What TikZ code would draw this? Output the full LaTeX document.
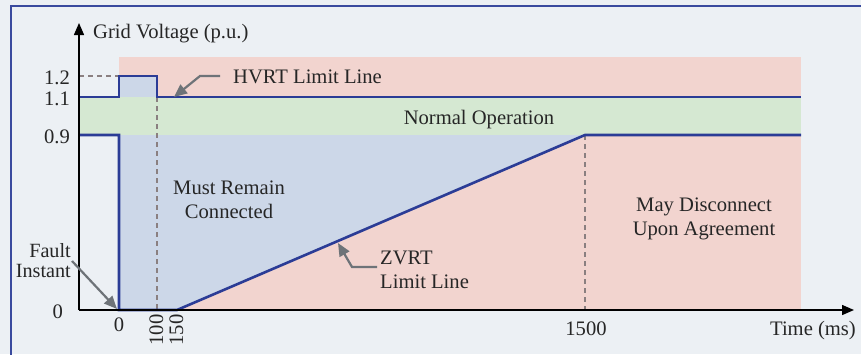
\documentclass[tikz,border=0pt]{standalone}
\usepackage{fontspec}
\setmainfont{Liberation Serif}
\usetikzlibrary{arrows.meta}
\definecolor{bgc}{HTML}{ECF0F4}
\definecolor{pinkc}{HTML}{F2D4CF}
\definecolor{greenc}{HTML}{D5E8D2}
\definecolor{bluef}{HTML}{CCD7E8}
\definecolor{lineblue}{HTML}{2B3C96}
\definecolor{framec}{HTML}{3A4A9E}
\definecolor{arrgray}{HTML}{6E7378}
\definecolor{dashc}{HTML}{8A7F80}
\begin{document}
\begin{tikzpicture}[x=1pt,y=-1pt,
  lbl/.style={font=\fontsize{20.6}{24}\selectfont, inner sep=0pt, text=black!85},
  small/.style={font=\fontsize{20.2}{20}\selectfont, inner sep=0pt, text=black!85},
  limit/.style={lineblue, line width=2.6pt, line join=miter},
  guide/.style={dashc, dashed, line width=1.2pt, dash pattern=on 5pt off 4pt},
  axis/.style={black, line width=1.4pt, -{Triangle[length=12pt,width=10pt]}},
  pointer/.style={arrgray, line width=2.2pt, -{Triangle[length=13pt,width=11pt]}}]
\useasboundingbox (0,0) rectangle (861,354);
\fill[bgc] (0,0) rectangle (861,354);
\draw[framec, line width=2.5pt] (11,400) -- (11,6) -- (900,6);
% regions
\fill[pinkc] (119,57) rectangle (801,310);
\fill[greenc] (79,97) rectangle (801,135);
\fill[bluef] (119,76) rectangle (157,97);
\fill[bluef] (119,135) -- (585,135) -- (177,310) -- (119,310) -- cycle;
% coordinates
\coordinate (o) at (79,310);
\coordinate (ytop) at (79,23);
\coordinate (xend) at (854,310);
\coordinate (a11) at (79,97);
\coordinate (b11) at (119,97);
\coordinate (b12) at (119,76);
\coordinate (c12) at (157,76);
\coordinate (c11) at (157,97);
\coordinate (e11) at (801,97);
\coordinate (a09) at (79,135);
\coordinate (b09) at (119,135);
\coordinate (b00) at (119,310);
\coordinate (d00) at (177,310);
\coordinate (f09) at (585,135);
\coordinate (e09) at (801,135);
\coordinate (c00) at (157,310);
\coordinate (f00) at (585,310);
\coordinate (a12) at (79,76);
% guides
\draw[guide] (a12) -- (b12);
\draw[guide] (c11) -- (c00);
\draw[guide] (f09) -- (f00);
% limit lines
\draw[limit] (a11) -- (b11) -- (b12) -- (c12) -- (c11) -- (e11);
\draw[limit] (a09) -- (b09) -- (b00) -- (d00) -- (f09) -- (e09);
% axes
\draw[axis] (o) -- (ytop);
\draw[axis] (o) -- (xend);
% axis labels
\node[lbl, anchor=base west] (ylab) at (93,38) {Grid Voltage (p.u.)};
\node[lbl, anchor=base east] (xlab) at (856,335) {Time (ms)};
\node[lbl, anchor=base east] (t12) at (70,84) {1.2};
\node[lbl, anchor=base east] (t11) at (70,105) {1.1};
\node[lbl, anchor=base east] (t09) at (70,143) {0.9};
\node[lbl, anchor=base east] (t00) at (63,318) {0};
\node[lbl, anchor=base] (x0) at (119,331) {0};
\node[lbl, anchor=base, rotate=90] (x100) at (163,330) {100};
\node[lbl, anchor=base, rotate=90] (x150) at (183,330) {150};
\node[lbl, anchor=base] (x1500) at (586,335) {1500};
% region labels
\node[lbl, anchor=base] (norm) at (479,124) {Normal Operation};
\node[lbl, align=center] (must) at (229,200) {Must Remain\\Connected};
\node[lbl, align=center] (may) at (704,219) {May Disconnect\\Upon Agreement};
\node[lbl, anchor=base west] (hvrt) at (233,83) {HVRT Limit Line};
\node[lbl, align=left, anchor=north west] (zvrt) at (380,251) {ZVRT\\Limit Line};
\node[small, align=right, anchor=north east] (fault) at (71,243) {Fault\\Instant};
% pointers
\coordinate (hv1) at (220,76);
\coordinate (hv2) at (200,76);
\coordinate (hvtip) at (174,97);
\draw[pointer] (hv1) -- (hv2) -- (hvtip);
\coordinate (zv1) at (377,267);
\coordinate (zv2) at (352,267);
\coordinate (zvtip) at (338,243);
\draw[pointer] (zv1) -- (zv2) -- (zvtip);
\coordinate (fa1) at (72,261);
\coordinate (fatip) at (117,309);
\draw[pointer] (fa1) -- (fatip);
\end{tikzpicture}
\end{document}
